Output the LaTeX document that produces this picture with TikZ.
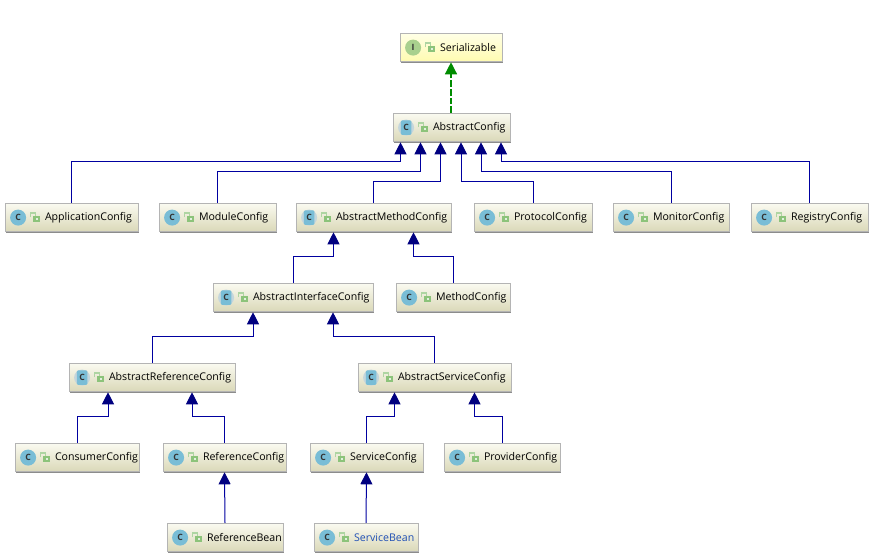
\documentclass[tikz,border=0pt]{standalone}
\usepackage{fontspec}
\setmainfont{Open Sans}
\usetikzlibrary{arrows.meta,shadows}
\definecolor{boxline}{HTML}{B4B4B4}
\definecolor{boxtop}{HTML}{FAFAF0}
\definecolor{boxbot}{HTML}{DAD8B8}
\definecolor{ifacetop}{HTML}{FFFFE6}
\definecolor{ifacebot}{HTML}{FFFBB0}
\definecolor{classblue}{HTML}{79BDD6}
\definecolor{classpale}{HTML}{C4D6DC}
\definecolor{ifacegreen}{HTML}{A9D08E}
\definecolor{lockgreen}{HTML}{8CC37A}
\definecolor{extline}{HTML}{0000A0}
\definecolor{exthead}{HTML}{000080}
\definecolor{implline}{HTML}{008C00}
\definecolor{labelblue}{HTML}{1F4FB5}
\tikzset{
  umlbox/.style={draw=boxline,line width=0.75pt,inner sep=0pt,align=left,
    minimum height=21.3pt,font=\fontsize{7.95}{10}\selectfont,text=black,
    top color=boxtop,bottom color=boxbot,
    drop shadow={shadow xshift=0.9pt,shadow yshift=-0.9pt,fill=black!45,opacity=1}},
  ifacebox/.style={umlbox,top color=ifacetop,bottom color=ifacebot},
  extends/.style={draw=extline,line width=0.75pt,-{Triangle[length=9pt,width=9pt,color=exthead,fill=exthead]}},
  implements/.style={draw=implline,line width=1pt,dash pattern=on 5pt off 1.5pt,
    -{Triangle[length=9pt,width=9pt,fill=implline]}},
  badge/.style={circle,inner sep=0pt,minimum size=12pt,
    font=\fontsize{6.5}{6.5}\selectfont\bfseries,text=black!80}
}
% padlock glyph shown next to each type icon
\newcommand{\padlock}[1]{%
  \begin{scope}[shift={([xshift=22.5pt]#1.west)}]
    \fill[lockgreen] (-0.8pt,-3.2pt) rectangle (4.2pt,1pt);
    \fill[white!75!lockgreen] (1pt,-2pt) rectangle (2.4pt,-0.2pt);
    \draw[lockgreen!70,line width=0.9pt] (-2.8pt,0.2pt) -- (-2.8pt,3.4pt) -- (0.6pt,3.4pt) -- (0.6pt,1pt);
  \end{scope}}
% \typebox{name}{left}{right}{top}{style}{label colour}{label}
\newcommand{\typebox}[7]{%
  \pgfmathsetmacro{\boxw}{(#3-#2)*0.75}
  \node[#5,minimum width=\boxw pt,text width=\boxw pt] (#1)
    at ({(#2+#3)/2},{#4+14.6}) {\hspace*{30pt}\mbox{\textcolor{#6}{#7}}};
  \padlock{#1}}
% plain class, abstract class and interface badges
\newcommand{\classbadge}[1]{%
  \node[badge,fill=classblue] (#1-badge) at ([xshift=10.2pt]#1.west) {C};}
\newcommand{\abstractbadge}[1]{%
  \node[badge,fill=classpale] (#1-badge) at ([xshift=10.2pt]#1.west) {};
  \fill[classblue,rounded corners=1pt] ([xshift=-4pt,yshift=-5.5pt]#1-badge.center) rectangle ([xshift=4pt,yshift=5.5pt]#1-badge.center);
  \node[font=\fontsize{6.5}{6.5}\selectfont\bfseries,text=black!80,inner sep=0pt] (#1-letter) at (#1-badge.center) {C};}
\newcommand{\ifacebadge}[1]{%
  \node[badge,fill=ifacegreen] (#1-badge) at ([xshift=10.2pt]#1.west) {I};}
% \extlink{child}{child dx}{parent}{parent dx}{rise}: offsets and rise in pixels
\newcommand{\extlink}[5]{%
  \draw[extends] ([xshift=#2*0.75pt]#1.north) -- ++(0,-#5) -| ([xshift=#4*0.75pt]#3.south);}
\begin{document}
\begin{tikzpicture}[x=0.75pt,y=-0.75pt]
\useasboundingbox[fill=white] (0,0) rectangle (889,556);

\typebox{serializable}{400}{502}{33}{ifacebox}{black}{Serializable}
\ifacebadge{serializable}
\typebox{abstractconfig}{393}{510}{113}{umlbox}{black}{AbstractConfig}
\abstractbadge{abstractconfig}

\typebox{application}{5}{138}{203}{umlbox}{black}{ApplicationConfig}
\classbadge{application}
\typebox{module}{159}{276}{203}{umlbox}{black}{ModuleConfig}
\classbadge{module}
\typebox{abstractmethod}{296}{451}{203}{umlbox}{black}{AbstractMethodConfig}
\abstractbadge{abstractmethod}
\typebox{protocol}{474}{592}{203}{umlbox}{black}{ProtocolConfig}
\classbadge{protocol}
\typebox{monitor}{613}{729}{203}{umlbox}{black}{MonitorConfig}
\classbadge{monitor}
\typebox{registry}{751}{868}{203}{umlbox}{black}{RegistryConfig}
\classbadge{registry}

\typebox{abstractinterface}{213}{373}{283}{umlbox}{black}{AbstractInterfaceConfig}
\abstractbadge{abstractinterface}
\typebox{method}{396}{510}{283}{umlbox}{black}{MethodConfig}
\classbadge{method}

\typebox{abstractreference}{69}{235}{363}{umlbox}{black}{AbstractReferenceConfig}
\abstractbadge{abstractreference}
\typebox{abstractservice}{358}{511}{363}{umlbox}{black}{AbstractServiceConfig}
\abstractbadge{abstractservice}

\typebox{consumer}{15}{139}{443}{umlbox}{black}{ConsumerConfig}
\classbadge{consumer}
\typebox{reference}{163}{286}{443}{umlbox}{black}{ReferenceConfig}
\classbadge{reference}
\typebox{service}{310}{423}{443}{umlbox}{black}{ServiceConfig}
\classbadge{service}
\typebox{provider}{444}{560}{443}{umlbox}{black}{ProviderConfig}
\classbadge{provider}

\typebox{referencebean}{167}{283}{523}{umlbox}{black}{ReferenceBean}
\classbadge{referencebean}
\typebox{servicebean}{314}{418}{523}{umlbox}{labelblue}{ServiceBean}
\classbadge{servicebean}

% inheritance arrows
\draw[implements] (abstractconfig.north -| serializable.south) -- (serializable.south);
\extlink{application}{0}{abstractconfig}{-51}{41}
\extlink{module}{0}{abstractconfig}{-31}{31}
\extlink{abstractmethod}{0}{abstractconfig}{-11}{21}
\extlink{protocol}{0}{abstractconfig}{9.5}{21}
\extlink{monitor}{0}{abstractconfig}{29.5}{31}
\extlink{registry}{0}{abstractconfig}{49.5}{41}

\extlink{abstractinterface}{0}{abstractmethod}{-40}{26}
\extlink{method}{0}{abstractmethod}{40}{26}
\extlink{abstractreference}{0}{abstractinterface}{-40}{26}
\extlink{abstractservice}{0}{abstractinterface}{40}{26}
\extlink{consumer}{0}{abstractreference}{-44}{26}
\extlink{reference}{0}{abstractreference}{40}{26}
\extlink{service}{0}{abstractservice}{-40}{26}
\extlink{provider}{0}{abstractservice}{40}{26}
\draw[extends] (referencebean.north) -- (reference.south);
\draw[extends] (servicebean.north) -- (service.south);
\end{tikzpicture}
\end{document}
